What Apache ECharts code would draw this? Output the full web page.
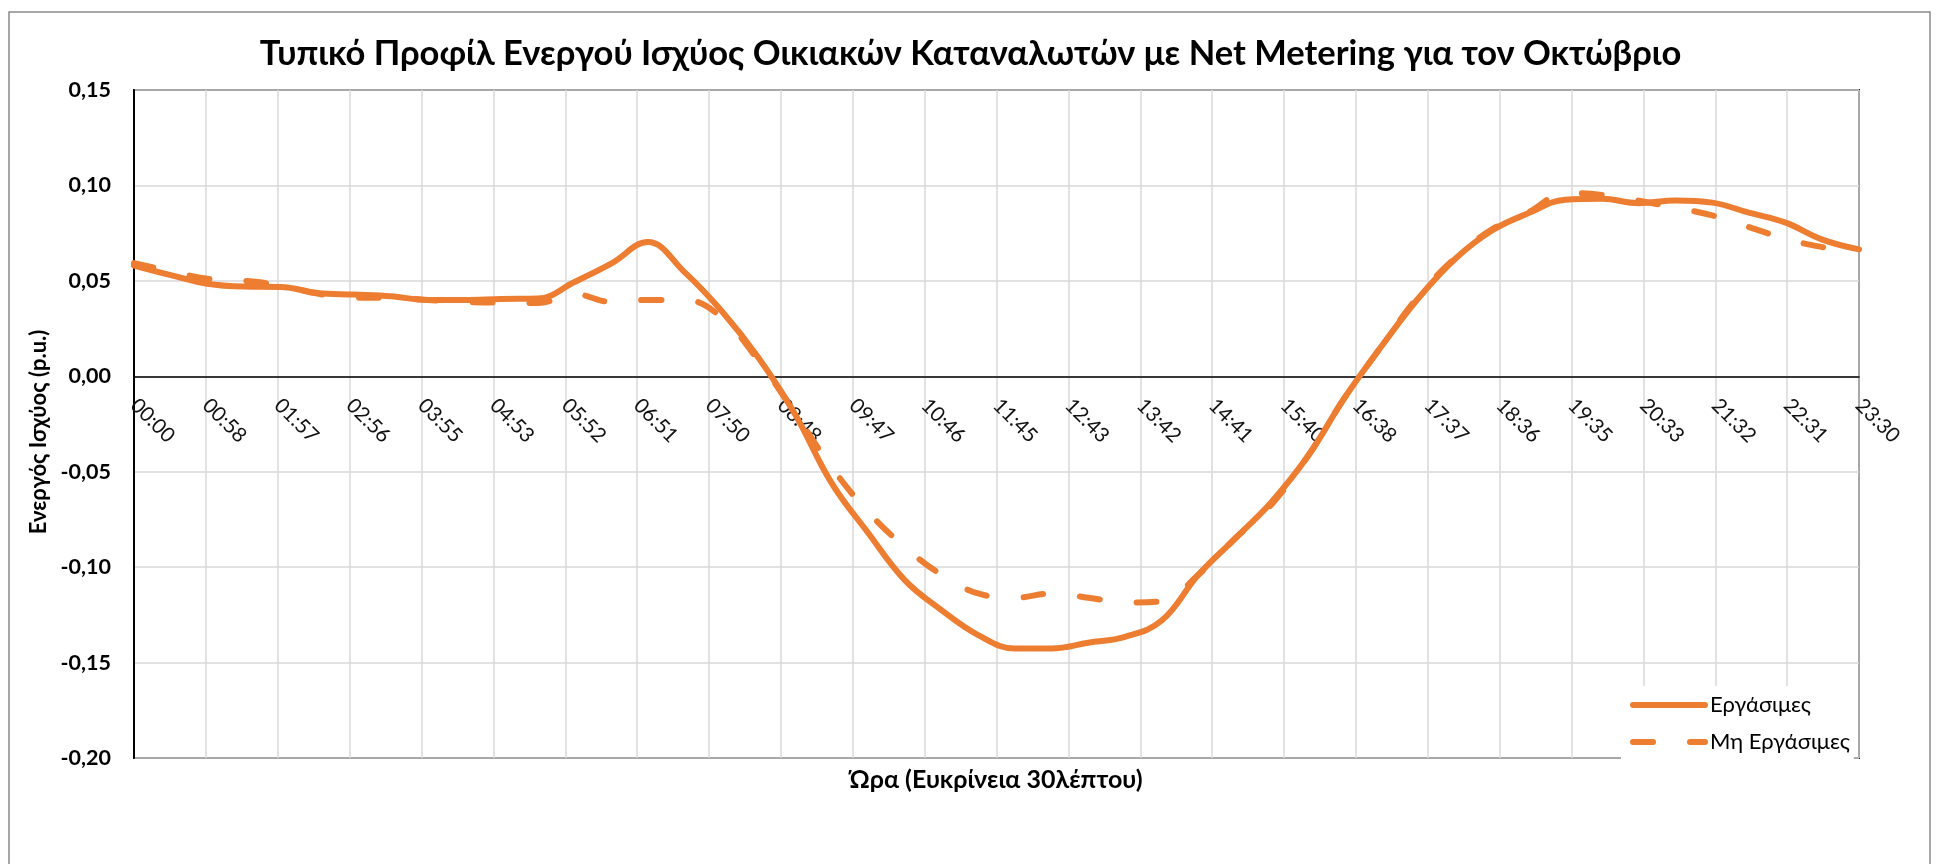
<!DOCTYPE html>
<html>
<head>
<meta charset="utf-8">
<script src="https://cdn.jsdelivr.net/npm/echarts@6/dist/echarts.min.js"></script>
<style>
html,body{margin:0;padding:0;background:#fff;}
#chart{width:1941px;height:864px;}
</style>
</head>
<body>
<div id="chart"></div>
<script>
const times = ['00:00','00:30','01:00','01:30','02:00','02:30','03:00','03:30','04:00','04:30','05:00','05:30',
  '06:00','06:30','07:00','07:30','08:00','08:30','09:00','09:30','10:00','10:30','11:00','11:30',
  '12:00','12:30','13:00','13:30','14:00','14:30','15:00','15:30','16:00','16:30','17:00','17:30',
  '18:00','18:30','19:00','19:30','20:00','20:30','21:00','21:30','22:00','22:30','23:00','23:30'];

const workdays = [0.058,0.053,0.0485,0.047,0.0468,0.0436,0.0428,0.0419,0.040,0.040,0.0405,0.0407,
  0.0494,0.059,0.0703,0.0546,0.0345,0.0101,-0.0195,-0.0557,-0.082,-0.1068,-0.1225,-0.1356,
  -0.1426,-0.1426,-0.1396,-0.1365,-0.1280,-0.104,-0.085,-0.0657,-0.0414,-0.0108,0.016,0.041,
  0.0616,0.0764,0.0855,0.0925,0.093,0.0907,0.0921,0.091,0.0857,0.0805,0.0716,0.0665];

const nonWorkdays = [0.0593,0.055,0.0511,0.050,0.0476,0.0433,0.0412,0.0412,0.040,0.0389,0.0386,0.0384,
  0.043,0.039,0.040,0.040,0.031,0.0085,-0.019,-0.0475,-0.071,-0.0894,-0.104,-0.1138,
  -0.116,-0.1138,-0.116,-0.1185,-0.118,-0.104,-0.085,-0.067,-0.0414,-0.0108,0.016,0.042,
  0.062,0.077,0.086,0.096,0.095,0.092,0.0883,0.0843,0.0782,0.072,0.0677,0.0646];

const seriesNames = ['Εργάσιμες','Μη Εργάσιμες'];

const xTickLabels = ['00:00','00:58','01:57','02:56','03:55','04:53','05:52','06:51','07:50','08:48','09:47','10:46',
  '11:45','12:43','13:42','14:41','15:40','16:38','17:37','18:36','19:35','20:33','21:32','22:31','23:30'];

const yTickLabels = ['-0,20','-0,15','-0,10','-0,05','0,00','0,05','0,10','0,15'];

const titleText = 'Τυπικό Προφίλ Ενεργού Ισχύος Οικιακών Καταναλωτών με Net Metering για τον Οκτώβριο';
const xAxisTitle = 'Ώρα (Ευκρίνεια 30λέπτου)';
const yAxisTitle = 'Ενεργός Ισχύος (p.u.)';

function toMinutes(t) { const p = t.split(':'); return (+p[0]) * 60 + (+p[1]); }
const xMax = toMinutes(times[times.length - 1]);
const xStep = xMax / (xTickLabels.length - 1);

const FONT = 'Lato';
const ORANGE = '#ED7D31';

const chart = echarts.init(document.getElementById('chart'), null, { renderer: 'canvas' });
chart.setOption({
  animation: false,
  backgroundColor: '#ffffff',
  graphic: [{
    type: 'rect',
    shape: { x: 9, y: 12, width: 1921, height: 1000 },
    style: { fill: 'none', stroke: '#8a8a8a', lineWidth: 1.5 },
    silent: true
  }],
  title: [{
    text: titleText,
    left: 'center',
    top: 36,
    padding: 0,
    textStyle: { fontFamily: FONT, fontSize: 34.5, fontWeight: 'bold', color: '#000' }
  }, {
    text: xAxisTitle,
    left: 996,
    top: 767,
    padding: 0,
    textAlign: 'center',
    textStyle: { fontFamily: FONT, fontSize: 25, fontWeight: 'bold', color: '#000' }
  }],
  legend: {
    orient: 'vertical',
    left: 1621,
    top: 686,
    padding: [8, 4, 6, 9],
    backgroundColor: '#ffffff',
    itemWidth: 72,
    itemHeight: 20,
    itemGap: 15,
    data: seriesNames,
    lineStyle: { width: 6 },
    itemStyle: { opacity: 0, borderWidth: 0 },
    textStyle: { fontFamily: FONT, fontSize: 22, color: '#000' }
  },
  grid: {
    left: 134, right: 82, top: 90, bottom: 106,
    show: true, borderColor: '#1a1a1a', borderWidth: 2, containLabel: false
  },
  xAxis: {
    type: 'value',
    min: 0, max: xMax, interval: xStep,
    axisLine: { show: true, onZero: true, lineStyle: { color: '#000', width: 1.5 } },
    axisTick: { show: false },
    splitLine: { show: true, lineStyle: { color: '#d9d9d9', width: 1.5 } },
    axisLabel: {
      rotate: -45, margin: -356,
      fontFamily: FONT, fontSize: 20.5, color: '#111',
      formatter: v => xTickLabels[Math.round(v / xStep)]
    }
  },
  yAxis: {
    type: 'value',
    min: -0.2, max: 0.15, interval: 0.05,
    name: yAxisTitle,
    nameLocation: 'middle',
    nameRotate: 90,
    nameGap: 80,
    nameTextStyle: { fontFamily: FONT, fontSize: 22, fontWeight: 'bold', color: '#000', padding: [0, 16, 0, 0] },
    axisLine: { show: true, lineStyle: { color: '#000', width: 2 } },
    axisTick: { show: false },
    splitLine: { show: true, lineStyle: { color: '#d9d9d9', width: 1.5 } },
    axisLabel: {
      margin: 23, fontFamily: FONT, fontSize: 21.5, fontWeight: 'bold', color: '#000',
      formatter: v => yTickLabels[Math.round((v + 0.2) / 0.05)]
    }
  },
  series: [{
    name: seriesNames[0],
    type: 'line',
    smooth: 0.4,
    symbol: 'none',
    data: times.map((t, i) => [toMinutes(t), workdays[i]]),
    lineStyle: { color: ORANGE, width: 6, cap: 'round', join: 'round' },
    itemStyle: { color: ORANGE },
    z: 3
  }, {
    name: seriesNames[1],
    type: 'line',
    smooth: 0.4,
    symbol: 'none',
    data: times.map((t, i) => [toMinutes(t), nonWorkdays[i]]),
    lineStyle: { color: ORANGE, width: 6, type: [20, 37], cap: 'round', join: 'round' },
    itemStyle: { color: ORANGE },
    z: 2
  }]
});
</script>
</body>
</html>
